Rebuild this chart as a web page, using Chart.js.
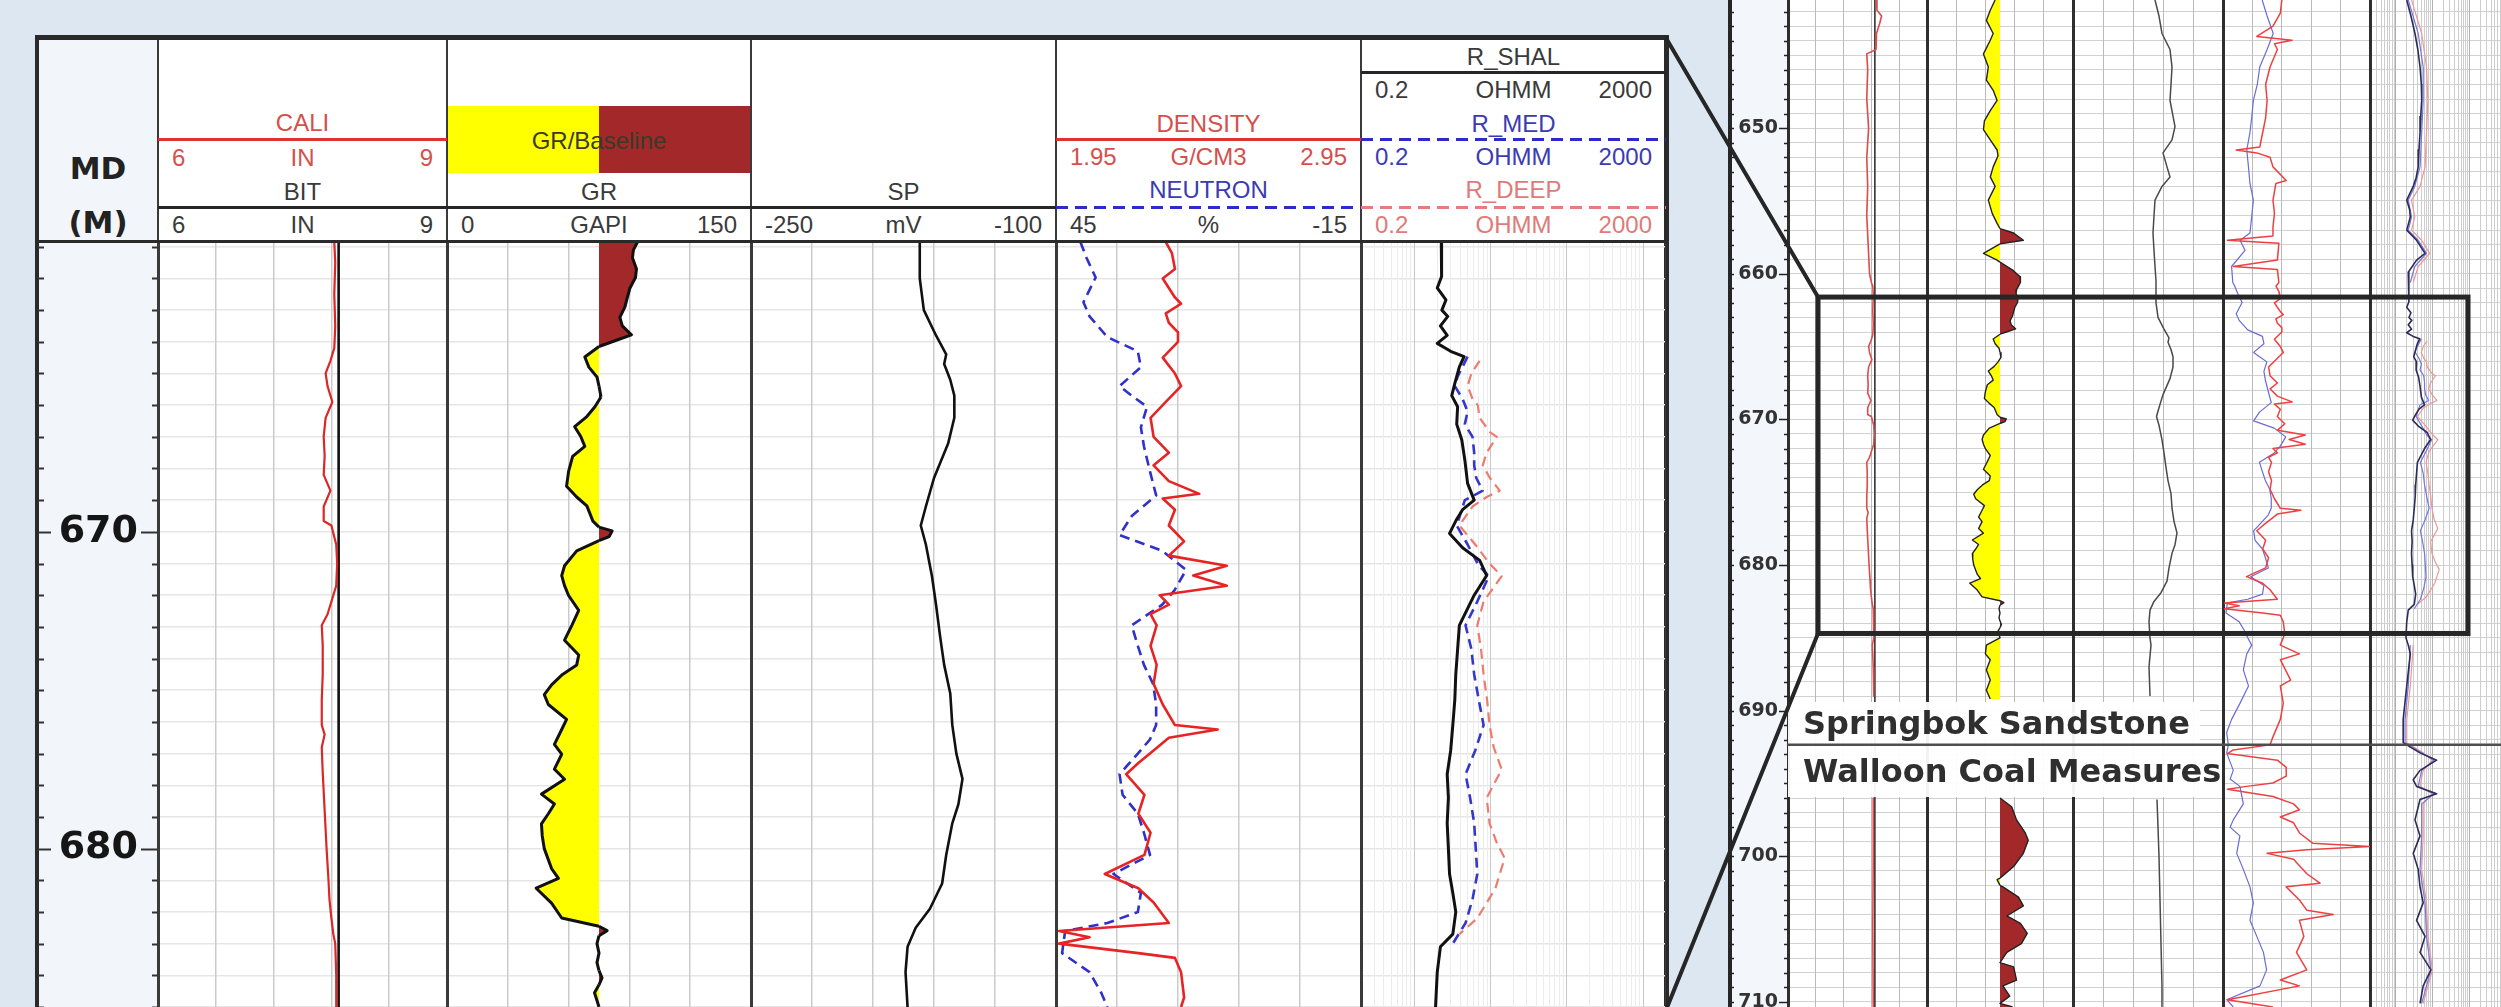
<!DOCTYPE html>
<html>
<head>
<meta charset="utf-8">
<title>Well log – Springbok Sandstone / Walloon Coal Measures</title>
<script src="https://cdn.jsdelivr.net/npm/chart.js@4.4.1/dist/chart.umd.min.js"></script>
<style>
  html, body { margin: 0; padding: 0; }
  body { width: 2501px; height: 1007px; overflow: hidden; background: #dde7f2; }
  #stage { position: relative; width: 2501px; height: 1007px; overflow: hidden;
           font-family: "Liberation Sans", Arial, sans-serif; }
  #stage > * { position: absolute; }
  .lbl { font-size: 24px; line-height: 1; white-space: nowrap; z-index: 3; }
  .md { font-family: "DejaVu Sans", sans-serif; font-weight: bold; font-size: 31px; color: #222; }
  .fm { font-family: "DejaVu Sans", sans-serif; font-weight: bold; font-size: 32px; color: #2f2f2f;
        background: rgba(255,255,255,0.94); z-index: 6; box-sizing: border-box; padding-left: 15px;
        display: flex; align-items: center; white-space: nowrap; }
  canvas { z-index: 2; }
  #overlay { z-index: 7; pointer-events: none; }
</style>
</head>
<body>
<div id="stage"></div>
<script>
// ---------------- depth windows ----------------
const MAIN_DEPTH = [660.85, 685.0];
const OV_DEPTH = [641.2, 710.35];
const MD_LABELS = [670, 680];
const OV_LABELS = [650, 660, 670, 680, 690, 700, 710];
const ZOOM_WINDOW = [661.6, 684.7];
const FORMATION_TOP = 692.35;
const FORMATION_NAMES = ['Springbok Sandstone', 'Walloon Coal Measures'];

// ---------------- curve scales ----------------
const CALI_RANGE = [6, 9];
const GR_RANGE = [0, 150];
const SP_RANGE = [-250, -100];
const DEN_RANGE = [1.95, 2.95];
const NEU_RANGE = [45, -15];
const RES_RANGE = [0.2, 2000];
const BIT_SIZE = 7.875;
const GR_BASELINE = 75;

// ---------------- vertical grid values ----------------
const CALI_GRID = [6, 6.6, 7.2, 7.8, 8.4, 9];
const GR_GRID = [0, 30, 60, 90, 120, 150];
const SP_GRID = [-250, -220, -190, -160, -130, -100];
const DEN_GRID = [1.95, 2.15, 2.35, 2.55, 2.75, 2.95];
const RES_GRID = [0.2, 0.3, 0.4, 0.5, 0.6, 0.7, 0.8, 0.9, 1, 2, 3, 4, 5, 6, 7, 8, 9, 10, 20, 30, 40, 50, 60, 70, 80, 90,
                  100, 200, 300, 400, 500, 600, 700, 800, 900, 1000, 2000];
const RES_DECADES = [1, 10, 100, 1000];

// ---------------- log curves: [depth m, value] ----------------
const GAP = null;

const CALI_MAIN = [[660.85,7.83],[661.5,7.84],[662.5,7.83],[663.5,7.84],[664.2,7.83],[664.6,7.79],[665.0,7.74],[665.4,7.76],
  [665.9,7.81],[666.4,7.74],[667.0,7.72],[667.6,7.73],[668.2,7.72],[668.7,7.79],[669.2,7.72],[669.66,7.72],[669.8,7.80],
  [670.4,7.85],[671.0,7.86],[671.7,7.85],[672.0,7.82],[672.6,7.76],[672.95,7.70],[673.6,7.71],[674.5,7.71],[675.3,7.70],
  [676.1,7.70],[676.4,7.73],[676.8,7.70],[677.6,7.71],[678.8,7.73],[680.0,7.75],[681.0,7.77],[681.6,7.78],[682.2,7.80],
  [682.7,7.82],[683.0,7.84],[684.0,7.85],[685.0,7.85]];

const GR_MAIN = [[660.85,94],[661.1,92],[661.35,91.5],[661.7,93.5],[661.97,93],[662.3,90.3],[662.6,89],[662.9,87.8],
  [663.23,85.3],[663.5,86.5],[663.78,91],[664.0,81.5],[664.15,75],[664.48,68],[664.8,70],[665.11,74],[665.4,75],[665.74,76],
  [666.05,73],[666.36,69],[666.68,63],[666.99,66],[667.3,68],[667.62,62],[668.09,60],[668.56,59],[668.9,64],[669.18,69],
  [669.66,72],[669.85,75],[669.97,81.5],[670.15,80],[670.28,75],[670.6,64],[671.07,58],[671.38,56.6],[671.7,58],[672.01,60],
  [672.48,65],[672.95,61.6],[673.42,58],[673.89,65],[674.2,64],[674.5,57],[674.83,51.6],[675.14,48],[675.45,50],[675.92,59],
  [676.24,56.6],[676.71,53],[677.02,56.6],[677.49,53],[677.81,58],[678.28,46.6],[678.59,53],[678.9,50],[679.22,46.6],
  [679.6,47],[680.0,48],[680.63,51.6],[680.94,55],[681.25,44],[681.72,51.6],[682.19,56.6],[682.45,75],[682.59,79],
  [682.75,75],[683.0,74],[683.3,75],[683.6,74],[683.85,75],[684.08,76.5],[684.3,75],[684.55,72.8],[685.0,75]];

const SP_MAIN = [[660.85,-167],[662.0,-167],[663.0,-165],[663.8,-159],[664.4,-154],[664.7,-155],[665.2,-152],
  [665.7,-150],[666.4,-150],[667.2,-153],[668.3,-160],[669.2,-164],[669.8,-166.5],[670.4,-164],[671.4,-161],
  [672.3,-159],[673.3,-157],[674.2,-155],[675.1,-152],[676.1,-151],[677.0,-149],[677.8,-146],[678.6,-148],
  [679.2,-151],[680.2,-154],[681.1,-156],[681.9,-162],[682.5,-169],[683.1,-173],[683.9,-174],[685.0,-173]];

const DEN_MAIN = [[660.85,2.31],[661.2,2.33],[661.7,2.34],[662.0,2.30],[662.3,2.32],[662.6,2.34],[662.8,2.36],[663.1,2.31],
  [663.4,2.32],[663.7,2.35],[664.0,2.35],[664.5,2.30],[665.0,2.34],[665.4,2.36],[665.9,2.31],[666.4,2.26],[667.0,2.27],
  [667.5,2.32],[667.9,2.27],[668.4,2.32],[668.8,2.42],[668.95,2.30],[669.3,2.34],[669.8,2.32],[670.3,2.37],[670.75,2.32],
  [671.07,2.51],[671.38,2.40],[671.7,2.51],[672.0,2.29],[672.3,2.32],[672.6,2.26],[672.95,2.28],[673.6,2.26],[674.2,2.28],
  [674.8,2.27],[675.45,2.30],[676.1,2.34],[676.24,2.48],[676.5,2.32],[676.9,2.27],[677.3,2.22],[677.65,2.18],[678.3,2.24],
  [678.9,2.22],[679.5,2.26],[680.2,2.24],[680.8,2.11],[681.25,2.22],[681.7,2.27],[682.35,2.32],[682.6,1.96],[682.8,2.06],
  [683.0,1.96],[683.3,2.22],[683.45,2.34],[683.9,2.36],[684.7,2.37],[685.0,2.36]];

const NEU_MAIN = [[660.85,40.2],[661.35,39.0],[661.97,37.2],[662.75,39.6],[663.2,38.4],[663.85,34.9],[664.3,28.9],
  [664.8,28.3],[665.4,32.5],[665.7,30.1],[666.05,27.1],[666.7,28.3],[667.3,27.7],[668.1,26.5],[668.85,25.3],[669.5,30.1],
  [670.1,32.5],[670.6,24.1],[671.2,19.4],[671.85,21.7],[672.3,24.1],[672.95,30.1],[673.6,28.9],[674.2,27.7],[674.8,25.9],
  [675.45,25.3],[676.1,25.3],[676.55,26.5],[677.0,28.9],[677.65,32.5],[678.3,31.9],[678.9,28.9],[679.5,27.7],[680.2,26.5],
  [680.8,33.7],[681.4,28.3],[682.0,28.9],[682.35,34.9],[682.6,43.2],[683.3,43.8],[683.9,38.4],[684.55,36.1],[685.0,34.9]];

const RSHAL_MAIN = [[660.85,2.26],[661.5,2.3],[661.94,2.26],[662.3,2.0],[662.68,2.6],[663.0,2.3],[663.2,2.75],[663.5,2.2],
  [663.8,2.7],[664.05,2.0],[664.3,3.0],[664.47,4.5],[664.79,3.9],[665.31,3.4],[665.7,3.1],[666.05,3.7],[666.6,3.6],
  [667.1,4.2],[667.73,4.6],[668.47,5.0],[669.0,6.1],[669.3,4.3],[669.6,3.6],[670.05,2.9],[670.5,4.3],[670.9,7.2],
  [671.38,8.9],[672.0,6.1],[672.95,3.9],[673.7,3.7],[674.5,3.5],[675.3,3.4],[676.1,3.2],[676.9,3.0],[677.65,2.7],
  [678.4,2.8],[679.2,2.7],[680.0,2.8],[680.8,2.9],[681.4,3.2],[682.0,3.5],[682.7,3.2],[683.1,2.2],[683.9,2.0],[685.0,1.9]];

const RMED_MAIN = [[664.47,5.0],[665.1,3.7],[665.4,3.4],[665.8,4.3],[666.2,5.0],[666.6,4.6],[667.0,5.8],[667.5,6.1],
  [667.9,6.1],[668.3,6.5],[668.7,7.9],[669.0,4.6],[669.8,3.6],[670.4,5.0],[671.07,7.0],[671.4,9.5],[672.2,6.7],
  [672.95,4.7],[673.7,5.6],[674.5,6.1],[675.3,7.0],[676.1,8.1],[676.9,6.3],[677.65,4.7],[678.4,5.4],[679.2,6.1],
  [680.0,6.4],[680.8,6.7],[681.6,5.8],[682.35,4.7],[683.0,3.2]];

const RDEEP_MAIN = [[664.6,7.2],[665.0,5.6],[665.4,5.0],[665.8,5.8],[666.0,6.8],[666.4,7.2],[666.85,9.8],[667.0,12.1],
  [667.5,8.9],[667.9,7.9],[668.3,9.8],[668.7,13.2],[668.9,8.9],[669.2,5.8],[669.8,3.9],[670.4,6.3],[671.0,9.7],
  [671.4,14.0],[672.2,8.1],[672.95,6.7],[673.7,7.5],[674.5,8.1],[675.3,9.0],[676.1,9.7],[676.8,11.0],[677.5,14.0],
  [678.4,8.9],[679.2,9.7],[679.8,12.0],[680.3,15.3],[681.25,11.6],[682.2,6.7],[682.7,3.9]];

// overview interval above and below the detailed window
const CALI_UPPER = [[641.2,7.91],[641.9,7.92],[642.3,8.02],[642.8,7.98],[643.5,7.91],[644.6,7.90],[644.9,7.70],[646,7.72],
  [648,7.70],[650,7.74],[652,7.70],[654,7.72],[656,7.70],[658,7.73],[660,7.76],[660.6,7.8]];
const CALI_LOWER = [[685.5,7.82],[687,7.84],[689,7.85],GAP,[696,7.84],[700,7.84],[705,7.83],[710.35,7.84]];

const GR_UPPER = [[641.2,70],[641.9,65],[642.6,61],[643.5,68],[643.96,65],[644.9,58],[645.8,63],[646.7,61],[647.4,68],
  [648.1,72],[648.8,65],[649.5,59],[650.1,58],[650.8,65],[651.5,72],[651.9,73],[652.66,68],[653.35,65],[654.0,70],
  [654.94,63],[655.85,67],[656.54,72],[656.9,75],[657.2,89],[657.7,99],[657.95,75],[658.6,58],[659.06,72],[659.2,75],
  [659.75,88],[660.2,95.6],[660.6,96]];
const GR_LOWER = [[685.1,72],[685.5,61],[686.1,60],[686.5,65],[687.2,61],[687.9,65],[688.6,61],[689.2,65],GAP,
  [696.0,75],[696.6,87],[697.5,92],[698.4,101],[698.9,104],[699.8,99],[700.7,89],[701.5,75],[701.6,72],[702.0,75],
  [702.1,78],[702.8,94],[703.4,99],[704.1,82],[704.6,96],[705.3,103],[706.0,97],[706.6,82],[707.3,75],[707.6,89],
  [708.5,92],[708.9,78],[709.6,85],[710.1,75],[710.35,88]];

const SP_UPPER = [[641.2,-168],[642.3,-164],[643.5,-161],[644.6,-153],[645.8,-151],[647,-152],[648.1,-153],[649.9,-148],
  [650.8,-151],[651.7,-160],[652.66,-156],[653.35,-153],[654.0,-161],[654.94,-168],[656,-169],[657.2,-170],[658.4,-169],
  [659.5,-168],[660.5,-167]];
const SP_LOWER = [[685.5,-172],[687,-174],[689,-173],GAP,[696.1,-166],[698,-165],[700,-164],[703,-163],[706,-162],
  [709,-161],[710.35,-161]];

const DEN_UPPER = [[641.2,2.35],[642.1,2.34],[643.0,2.29],[643.7,2.18],[643.96,2.42],[644.2,2.30],[644.6,2.32],[645.8,2.27],
  [647.0,2.24],[648.1,2.25],[649.3,2.24],[650.3,2.22],[651.3,2.20],[651.5,2.04],[651.7,2.18],[652.0,2.27],[652.66,2.29],
  [653.6,2.38],[653.8,2.31],[654.94,2.29],[655.85,2.30],[656.8,2.29],[657.4,2.29],[657.7,1.98],[657.9,2.33],[659.06,2.32],
  [659.5,2.02],[659.7,2.32],[660.6,2.33]];
const DEN_LOWER = [[685.5,2.34],[686.1,2.47],[686.5,2.34],[687.9,2.41],[688.3,2.34],[689.5,2.36],[690.6,2.34],[691.8,2.29],
  [692.35,2.27],[692.7,2.02],[692.95,1.98],[693.4,2.32],[693.9,2.38],[694.5,2.38],[694.97,2.29],[695.2,2.11],[695.4,1.98],
  [695.9,2.29],[696.4,2.43],[696.8,2.47],[697.3,2.34],[697.7,2.43],[698.4,2.47],[699.1,2.56],[699.33,2.95],[699.56,2.52],
  [699.8,2.25],[700.2,2.43],[701.2,2.52],[701.85,2.61],[702.1,2.38],[703.0,2.47],[703.7,2.52],[704.0,2.70],[704.4,2.47],
  [705.5,2.50],[706.6,2.45],[707.8,2.52],[708.5,2.34],[708.9,2.47],[709.85,1.98],[710.35,2.29]];

const NEU_UPPER = [[641.2,29],[642.3,27],[643.5,24.5],[644.6,27],[645.8,30],[647.0,31],[648.1,32.6],[649.3,33.3],
  [650.3,34],[651.5,35.3],[652.66,34.6],[653.8,34],[654.94,32.6],[656.1,33.3],[657.2,34],[657.7,38],[658.4,36],
  [659.5,41.5],[660.6,41]];
const NEU_LOWER = [[685.5,33.3],[686.1,35.3],[687.2,36.7],[688.3,34.6],[689.5,38.1],[690.6,41.5],[691.5,43.5],
  [692.35,42.8],[692.9,43.5],[694.1,40.8],[694.7,42.1],[695.2,38.1],[696.4,36.7],[697.5,40.8],[698.0,42.1],[698.6,38.1],
  [699.8,39.4],[700.9,36.7],[702.1,34.0],[703.2,32.6],[704.4,34.0],[705.5,31.2],[706.6,28.5],[707.8,27.2],[708.9,29.9],
  [709.85,43.5],[710.35,40.8]];

const RSHAL_UPPER = [[641.2,2.0],[642.3,2.6],[643.5,3.35],[644.6,4.0],[645.8,4.6],[647,5.0],[648.1,5.1],[649.2,4.8],
  [650.3,4.6],[651.5,4.3],[652.66,4.1],[653.4,3.6],[654.0,3.0],[654.94,2.0],[655.6,2.4],[656.1,2.5],[657.0,2.0],
  [657.7,3.7],[658.6,6.3],[659.06,3.7],[659.9,2.2],[660.6,2.3]];
const RSHAL_LOWER = [[685.5,2.2],[686.1,2.5],[688.3,2.0],[690.6,1.6],[692.2,1.6],[692.5,2.5],[692.9,4.6],[693.4,13],
  [694.1,4.6],[694.75,3.0],[695.2,3.7],[695.7,13],[696.1,4.6],[697.5,3.35],[698.6,4.6],[699.8,3.0],[700.9,4.1],
  [702.1,4.6],[703.2,5.6],[704.4,3.7],[705.5,6.3],[706.6,4.6],[707.8,9.1],[708.9,5.6],[710.1,4.6]];
const RMED_UPPER = [[641.2,2.2],[643.5,4.1],[645.8,5.6],[648.1,5.6],[650.3,5.1],[652.66,4.6],[654.0,3.3],[654.94,2.2],
  [656.1,2.7],[657.0,2.2],[657.7,4.1],[658.6,6.9],[659.5,3.3],[660.6,2.5]];
const RMED_LOWER = [[685.5,2.5],[688.3,2.2],[690.6,1.8],[692.2,1.8],[692.9,5.1],[693.4,11],[694.1,5.1],[695.2,4.1],
  [695.7,11],[696.4,5.1],[698.6,5.1],[700.9,4.6],[703.2,6.3],[705.5,6.9],[707.8,9.1],[710.1,5.1]];
const RDEEP_UPPER = [[641.2,2.7],[643.5,5.1],[645.8,6.9],[648.1,7.5],[650.3,6.9],[652.66,6.3],[654.0,4.6],[654.94,2.7],
  [656.1,3.3],[657.0,2.7],[657.7,5.1],[658.6,8.4],[659.5,4.1],[660.6,3.0]];
const RDEEP_LOWER = [[685.5,3.0],[688.3,2.5],[690.6,2.0],[692.2,2.0],[692.9,5.6],[693.4,10],[694.1,5.6],[695.2,4.6],
  [695.7,10],[696.4,5.6],[698.6,5.6],[700.9,5.1],[703.2,6.9],[705.5,7.5],[707.8,10],[710.1,5.6]];

// ---------------- colours ----------------
const YELLOW = '#ffff00';
const BROWN = '#a3282a';
const RED_TXT = '#d5504c';
const BLUE_TXT = '#3b3bb4';
const PINK_TXT = '#de7b78';
const DARK_TXT = '#3a3a3a';

// ---------------- layout ----------------
const stage = document.getElementById('stage');
const MAIN_COLS = [38, 158, 447, 751, 1056, 1361, 1666];
const MAIN_TOP = 242, MAIN_H = 765;
const OV_COLS = [1730, 1788, 1927, 2073, 2223, 2370, 2517];

function el(tag, cls, css, text) {
  const e = document.createElement(tag);
  if (cls) e.className = cls;
  Object.assign(e.style, css);
  if (text !== undefined) e.textContent = text;
  stage.appendChild(e);
  return e;
}
function box(l, t, w, h, bg, z, extra) {
  return el('div', '', Object.assign({left: l + 'px', top: t + 'px', width: w + 'px', height: h + 'px',
    background: bg, zIndex: z || 1}, extra || {}));
}
function label(x, y, s, color, align, cls) {
  const tx = align === 'left' ? '0' : align === 'right' ? '-100%' : '-50%';
  return el('div', cls || 'lbl', {left: x + 'px', top: y + 'px', color: color,
    transform: 'translate(' + tx + ',-50%)'}, s);
}
function hline(x1, x2, y, color, w, dashed) {
  const bg = dashed
    ? 'repeating-linear-gradient(90deg,' + color + ' 0 12px, transparent 12px 19px)'
    : color;
  return box(x1, y - w / 2, x2 - x1, w, bg, 3);
}
function scaleRow(c0, c1, y, range, unit, color) {
  label(c0 + 14, y, String(range[0]), color, 'left');
  label((c0 + c1) / 2, y, unit, color, 'center');
  label(c1 - 14, y, String(range[1]), color, 'right');
}

// frame of the detailed log
box(35, 35, 1634, 1100, '#ffffff', 0, {boxSizing: 'border-box', borderTop: '5px solid #2a2a2a',
  borderLeft: '4px solid #2a2a2a', borderRight: '5px solid #2a2a2a'});
box(39, 40, 119, 1000, '#f2f6fb', 1);
// header separators
for (let i = 1; i < MAIN_COLS.length - 1; i++) box(MAIN_COLS[i] - 1, 40, 2, 202, '#3a3a3a', 3);
hline(38, 1666, 241.5, '#2a2a2a', 3);

// MD header
label(98, 168, 'MD', '#222', 'center', 'lbl md');
label(98, 222, '(M)', '#222', 'center', 'lbl md');

// track headers
{
  const [a, b] = [MAIN_COLS[1], MAIN_COLS[2]];
  label((a + b) / 2, 123, 'CALI', RED_TXT);
  hline(a, b, 139, '#e03030', 3);
  scaleRow(a, b, 158, CALI_RANGE, 'IN', RED_TXT);
  label((a + b) / 2, 192, 'BIT', DARK_TXT);
  hline(a, b, 207, '#262626', 3);
  scaleRow(a, b, 225, CALI_RANGE, 'IN', DARK_TXT);
}
{
  const [a, b] = [MAIN_COLS[2], MAIN_COLS[3]];
  const mid = a + (b - a) * (GR_BASELINE - GR_RANGE[0]) / (GR_RANGE[1] - GR_RANGE[0]);
  box(a, 106, mid - a, 67, YELLOW, 2);
  box(mid, 106, b - mid, 67, BROWN, 2);
  label((a + b) / 2, 141, 'GR/Baseline', '#3a3a2a');
  label((a + b) / 2, 192, 'GR', DARK_TXT);
  hline(a, b, 207, '#262626', 3);
  scaleRow(a, b, 225, GR_RANGE, 'GAPI', DARK_TXT);
}
{
  const [a, b] = [MAIN_COLS[3], MAIN_COLS[4]];
  label((a + b) / 2, 192, 'SP', DARK_TXT);
  hline(a, b, 207, '#262626', 3);
  scaleRow(a, b, 225, SP_RANGE, 'mV', DARK_TXT);
}
{
  const [a, b] = [MAIN_COLS[4], MAIN_COLS[5]];
  label((a + b) / 2, 124, 'DENSITY', RED_TXT);
  hline(a, b, 139, '#e03030', 3);
  scaleRow(a, b, 157, DEN_RANGE, 'G/CM3', RED_TXT);
  label((a + b) / 2, 190, 'NEUTRON', BLUE_TXT);
  hline(a, b, 207, '#2c2ccc', 3, true);
  scaleRow(a, b, 225, NEU_RANGE, '%', DARK_TXT);
}
{
  const [a, b] = [MAIN_COLS[5], MAIN_COLS[6]];
  label((a + b) / 2, 57, 'R_SHAL', DARK_TXT);
  hline(a, b, 72, '#262626', 3);
  scaleRow(a, b, 90, RES_RANGE, 'OHMM', DARK_TXT);
  label((a + b) / 2, 124, 'R_MED', BLUE_TXT);
  hline(a, b, 139, '#2c2ccc', 3, true);
  scaleRow(a, b, 157, RES_RANGE, 'OHMM', BLUE_TXT);
  label((a + b) / 2, 190, 'R_DEEP', PINK_TXT);
  hline(a, b, 207, '#e87c78', 3, true);
  scaleRow(a, b, 225, RES_RANGE, 'OHMM', PINK_TXT);
}

// overview panel background and depth column
box(OV_COLS[0], 0, 2501 - OV_COLS[0], 1007, '#ffffff', 0);
box(OV_COLS[0], 0, OV_COLS[1] - OV_COLS[0], 1007, '#f3f7fc', 1);
box(OV_COLS[0] - 2, 0, 4, 1007, '#262626', 4);

// ---------------- Chart.js helpers ----------------
Chart.defaults.font.family = '"Liberation Sans", Arial, sans-serif';
Chart.defaults.plugins.legend.display = false;
Chart.defaults.plugins.tooltip.enabled = false;
Chart.defaults.elements.point.radius = 0;

const toPoints = arr => arr.map(p => p === GAP ? {x: null, y: null} : {x: p[1], y: p[0]});

function metreTicks(range) {
  const t = [];
  for (let d = Math.ceil(range[0]); d <= Math.floor(range[1]); d++) t.push(d);
  return t;
}

// ticks on both edges of the depth column, longer at labelled depths
const depthTickPlugin = {
  id: 'depthTicks',
  afterDraw(chart, args, o) {
    const s = chart.scales.y, ctx = chart.ctx;
    ctx.save();
    ctx.strokeStyle = o.color;
    ctx.lineWidth = o.width;
    for (const t of s.ticks) {
      const y = Math.round(s.getPixelForValue(t.value)) + 0.5;
      const major = o.labels.includes(t.value);
      ctx.beginPath();
      ctx.moveTo(s.right - (major ? o.majorRight : o.minor), y);
      ctx.lineTo(s.right, y);
      ctx.moveTo(s.left, y);
      ctx.lineTo(s.left + (major ? o.majorLeft : o.minor), y);
      ctx.stroke();
    }
    ctx.restore();
  }
};

// the depth axis keeps the full canvas height: no label padding at the ends
function noPad(s) { s.paddingTop = 0; s.paddingBottom = 0; s.paddingLeft = 0; s.paddingRight = 0; }

function depthScale(range, hgrid, axis) {
  const sc = {
    type: 'linear', axis: 'y', position: 'left', reverse: true, min: range[0], max: range[1],
    afterBuildTicks: s => { s.ticks = metreTicks(range).map(v => ({value: v})); },
    afterFit: s => { s.width = axis ? axis.width : 0; noPad(s); },
    grid: {color: hgrid.color, lineWidth: hgrid.width, drawTicks: false},
    border: {display: false},
    ticks: {display: false}
  };
  if (axis) {
    sc.ticks = {display: true, autoSkip: false, padding: axis.padding, color: axis.color,
      font: axis.font, callback: v => axis.labels.includes(v) ? String(v) : ''};
  }
  return sc;
}

function valueScale(range, gridVals, st, opts) {
  opts = opts || {};
  const lo = Math.min(range[0], range[1]), hi = Math.max(range[0], range[1]);
  const isEdge = v => v === lo || v === hi;
  return {
    type: opts.log ? 'logarithmic' : 'linear', axis: 'x', position: 'bottom',
    min: lo, max: hi, reverse: range[0] > range[1], display: !opts.hidden,
    afterBuildTicks: s => { s.ticks = gridVals.map(v => ({value: v})); },
    afterFit: s => { s.height = 0; noPad(s); },
    ticks: {display: false},
    border: {display: false},
    grid: {
      drawTicks: false,
      color: c => c.tick && isEdge(c.tick.value) ? st.edge
        : (st.major && c.tick && st.major.includes(c.tick.value) ? st.majorColor : st.color),
      lineWidth: c => c.tick && isEdge(c.tick.value) ? st.edgeWidth : st.width
    }
  };
}

function addCanvas(left, top, width, height) {
  const c = document.createElement('canvas');
  c.width = width; c.height = height;
  Object.assign(c.style, {left: left + 'px', top: top + 'px', width: width + 'px', height: height + 'px'});
  stage.appendChild(c);
  return c;
}

function trackChart(left, top, width, height, scales, datasets, depthOpts) {
  const cv = addCanvas(left, top, width, height);
  const plugins = {};
  if (depthOpts) plugins.depthTicks = depthOpts;
  return new Chart(cv, {
    type: 'line',
    data: {datasets: datasets},
    options: {
      indexAxis: 'y', responsive: false, animation: false, devicePixelRatio: 1, events: [],
      layout: {padding: 0}, spanGaps: false,
      scales: scales, plugins: plugins
    },
    plugins: depthOpts ? [depthTickPlugin] : []
  });
}

function curve(data, color, width, extra) {
  return Object.assign({data: toPoints(data), borderColor: color, borderWidth: width, fill: false,
    pointRadius: 0, borderJoinStyle: 'round'}, extra || {});
}
const grSide = c => ((c.p0.parsed.x + c.p1.parsed.x) / 2 > GR_BASELINE ? BROWN : YELLOW);
function grCurve(data, width, color) {
  return curve(data, color, width, {fill: {value: GR_BASELINE}, backgroundColor: YELLOW,
    segment: {backgroundColor: grSide}});
}
function bitLine(range, color, width) {
  return curve([[range[0], BIT_SIZE], [range[1], BIT_SIZE]], color, width);
}

// ---------------- detailed log ----------------
const MG = {color: '#cbcbcb', width: 1.5, edge: '#3a3a3a', edgeWidth: 3};
const MGR = {color: '#ececec', width: 1, major: RES_DECADES, majorColor: '#c8c8c8', edge: '#3a3a3a', edgeWidth: 3};
const MH = {color: '#e6e6e6', width: 1.5};
const mainAxis = {width: MAIN_COLS[1] - MAIN_COLS[0], padding: 20, color: '#161616',
  font: {family: '"DejaVu Sans", sans-serif', weight: 'bold', size: 38}, labels: MD_LABELS};

trackChart(MAIN_COLS[0], MAIN_TOP, MAIN_COLS[2] - MAIN_COLS[0], MAIN_H,
  {y: depthScale(MAIN_DEPTH, MH, mainAxis), x: valueScale(CALI_RANGE, CALI_GRID, MG)},
  [curve(CALI_MAIN, '#dd2626', 2.2), bitLine(MAIN_DEPTH, '#111', 2.6)],
  {color: '#333', width: 2, minor: 6, majorRight: 17, majorLeft: 13, labels: MD_LABELS});

trackChart(MAIN_COLS[2], MAIN_TOP, MAIN_COLS[3] - MAIN_COLS[2], MAIN_H,
  {y: depthScale(MAIN_DEPTH, MH), x: valueScale(GR_RANGE, GR_GRID, MG)},
  [grCurve(GR_MAIN, 3, '#111')]);

trackChart(MAIN_COLS[3], MAIN_TOP, MAIN_COLS[4] - MAIN_COLS[3], MAIN_H,
  {y: depthScale(MAIN_DEPTH, MH), x: valueScale(SP_RANGE, SP_GRID, MG)},
  [curve(SP_MAIN, '#111', 2.6)]);

trackChart(MAIN_COLS[4], MAIN_TOP, MAIN_COLS[5] - MAIN_COLS[4], MAIN_H,
  {y: depthScale(MAIN_DEPTH, MH), x: valueScale(DEN_RANGE, DEN_GRID, MG),
   xn: valueScale(NEU_RANGE, [], MG, {hidden: true})},
  [curve(DEN_MAIN, '#e62424', 2.6),
   curve(NEU_MAIN, '#3030cc', 2.6, {xAxisID: 'xn', borderDash: [10, 6]})]);

trackChart(MAIN_COLS[5], MAIN_TOP, MAIN_COLS[6] - MAIN_COLS[5], MAIN_H,
  {y: depthScale(MAIN_DEPTH, MH), x: valueScale(RES_RANGE, RES_GRID, MGR, {log: true})},
  [curve(RSHAL_MAIN, '#111', 3),
   curve(RMED_MAIN, '#3535cf', 2.6, {borderDash: [10, 6]}),
   curve(RDEEP_MAIN, '#ef7b6e', 2.2, {borderDash: [10, 6]})]);

// ---------------- overview log ----------------
const OG = {color: '#b9b9b9', width: 1, edge: '#2e2e2e', edgeWidth: 3};
const OGR = {color: '#cdcdcd', width: 1, major: RES_DECADES, majorColor: '#b2b2b2', edge: '#2e2e2e', edgeWidth: 3};
const OH = {color: '#d2d2d2', width: 1};
const ovAxis = {width: OV_COLS[1] - OV_COLS[0], padding: 10, color: '#333',
  font: {family: '"DejaVu Sans", sans-serif', weight: 'bold', size: 19}, labels: OV_LABELS};
const OV_H = 1007;
const join = (a, b, c, gapA, gapB) => [...a, ...(gapA ? [GAP] : []), ...b, ...(gapB ? [GAP] : []), ...c];

const ov1 = trackChart(OV_COLS[0], 0, OV_COLS[2] - OV_COLS[0], OV_H,
  {y: depthScale(OV_DEPTH, OH, ovAxis), x: valueScale(CALI_RANGE, CALI_GRID, OG)},
  [curve(join(CALI_UPPER, CALI_MAIN, CALI_LOWER), '#e04a4a', 1.6), bitLine(OV_DEPTH, '#333', 1.6)],
  {color: '#222', width: 1.5, minor: 4, majorRight: 9, majorLeft: 4, labels: OV_LABELS});

trackChart(OV_COLS[2], 0, OV_COLS[3] - OV_COLS[2], OV_H,
  {y: depthScale(OV_DEPTH, OH), x: valueScale(GR_RANGE, GR_GRID, OG)},
  [grCurve(join(GR_UPPER, GR_MAIN, GR_LOWER), 1.4, '#222')]);

trackChart(OV_COLS[3], 0, OV_COLS[4] - OV_COLS[3], OV_H,
  {y: depthScale(OV_DEPTH, OH), x: valueScale(SP_RANGE, SP_GRID, OG)},
  [curve(join(SP_UPPER, SP_MAIN, SP_LOWER), '#4a4a4a', 1.5)]);

trackChart(OV_COLS[4], 0, OV_COLS[5] - OV_COLS[4], OV_H,
  {y: depthScale(OV_DEPTH, OH), x: valueScale(DEN_RANGE, DEN_GRID, OG),
   xn: valueScale(NEU_RANGE, [], OG, {hidden: true})},
  [curve(join(DEN_UPPER, DEN_MAIN, DEN_LOWER), '#ee4040', 1.5),
   curve(join(NEU_UPPER, NEU_MAIN, NEU_LOWER), '#6a6ad8', 1.2, {xAxisID: 'xn'})]);

trackChart(OV_COLS[5], 0, OV_COLS[6] - OV_COLS[5], OV_H,
  {y: depthScale(OV_DEPTH, OH), x: valueScale(RES_RANGE, RES_GRID, OGR, {log: true})},
  [curve(join(RSHAL_UPPER, RSHAL_MAIN, RSHAL_LOWER), '#2c2c58', 1.6),
   curve(join(RMED_UPPER, RMED_MAIN, RMED_LOWER, true, true), '#7676dc', 1.2),
   curve(join(RDEEP_UPPER, RDEEP_MAIN, RDEEP_LOWER, true, true), '#eb9a98', 1.2)]);

// ---------------- formation tops, zoom window and connectors ----------------
const ovY = d => ov1.scales.y.getPixelForValue(d);
const fy = ovY(FORMATION_TOP);
el('div', 'fm', {left: OV_COLS[1] + 'px', top: (fy - 43) + 'px', width: '412px', height: '43px'}, FORMATION_NAMES[0]);
el('div', 'fm', {left: OV_COLS[1] + 'px', top: fy + 'px', width: '434px', height: '52px'}, FORMATION_NAMES[1]);

const ov = document.createElement('canvas');
ov.id = 'overlay';
ov.width = 2501; ov.height = 1007;
Object.assign(ov.style, {left: '0px', top: '0px', width: '2501px', height: '1007px'});
stage.appendChild(ov);
const g = ov.getContext('2d');
g.lineCap = 'round';
g.strokeStyle = '#4e4e4e';
g.lineWidth = 2.5;
g.beginPath(); g.moveTo(OV_COLS[1], fy); g.lineTo(2501, fy); g.stroke();

const zTop = ovY(ZOOM_WINDOW[0]), zBot = ovY(ZOOM_WINDOW[1]);
g.strokeStyle = '#262626';
g.lineWidth = 5;
g.strokeRect(1818, zTop, 2468 - 1818, zBot - zTop);
g.lineWidth = 4;
g.beginPath();
g.moveTo(1666, 38); g.lineTo(1818, zTop);
g.moveTo(1666, 1010); g.lineTo(1818, zBot);
g.stroke();
</script>
</body>
</html>
